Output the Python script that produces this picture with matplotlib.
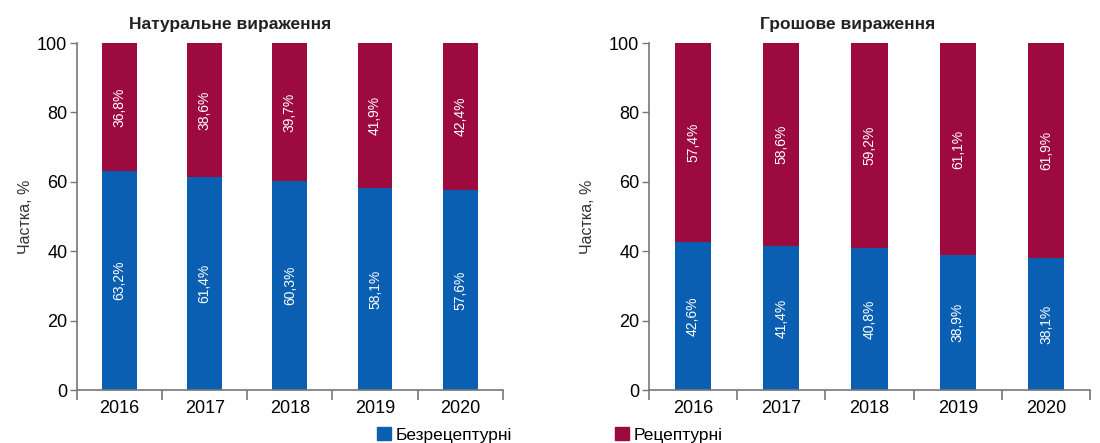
import matplotlib
matplotlib.use("Agg")
import matplotlib.pyplot as plt
from matplotlib.patches import Patch

plt.rcParams['font.family'] = ['Liberation Sans', 'DejaVu Sans']

years = ["2016", "2017", "2018", "2019", "2020"]
otc_units = [63.2, 61.4, 60.3, 58.1, 57.6]
rx_units = [36.8, 38.6, 39.7, 41.9, 42.4]
otc_money = [42.6, 41.4, 40.8, 38.9, 38.1]
rx_money = [57.4, 58.6, 59.2, 61.1, 61.9]

titles = ["Натуральне вираження", "Грошове вираження"]
series_names = ["Безрецептурні", "Рецептурні"]
y_label = "Частка, %"

BLUE = "#0b5fb2"
RED = "#9c0a3f"
AXIS = "#777777"

fig = plt.figure(figsize=(11, 4.43), dpi=100)
ax_l = fig.add_axes([0.070, 0.1196, 0.387, 0.7833])
ax_r = fig.add_axes([0.590, 0.1196, 0.401, 0.7833])


def fmt(v):
    return f"{v:.1f}%".replace(".", ",")


def draw(ax, otc, rx, title, ylabel_pad):
    x = range(len(years))
    ax.bar(x, otc, width=0.41, color=BLUE)
    ax.bar(x, rx, width=0.41, bottom=otc, color=RED)
    for i, (a, b) in enumerate(zip(otc, rx)):
        ax.text(i, a / 2, fmt(a), rotation=90, ha="center", va="center",
                color="white", fontsize=10)
        ax.text(i, a + b / 2, fmt(b), rotation=90, ha="center", va="center",
                color="white", fontsize=10)
    ax.set_xlim(-0.5, len(years) - 0.5)
    ax.set_ylim(0, 100)
    ax.set_yticks([0, 20, 40, 60, 80, 100])
    ax.set_xticks([i - 0.5 for i in range(len(years) + 1)])
    ax.set_xticklabels([])
    ax.set_xticks(list(x), minor=True)
    ax.set_xticklabels(years, minor=True, fontsize=13)
    ax.tick_params(axis="x", which="major", length=7, width=1.2, color=AXIS)
    ax.tick_params(axis="x", which="minor", length=0, pad=7)
    ax.tick_params(axis="y", length=5, width=1, color=AXIS, labelsize=13, pad=2)
    for s in ("top", "right"):
        ax.spines[s].set_visible(False)
    for s in ("left", "bottom"):
        ax.spines[s].set_color(AXIS)
        ax.spines[s].set_linewidth(1.2)
    ax.set_ylabel(y_label, fontsize=11.5, labelpad=ylabel_pad, color="#333333")
    ax.set_title(title, fontsize=12.5, fontweight="bold", pad=10, color="#222222")


draw(ax_l, otc_units, rx_units, titles[0], 3)
draw(ax_r, otc_money, rx_money, titles[1], 10)
ax_l.title.set_position((0.36, 1.0))
ax_r.title.set_position((0.45, 1.0))

handles = [Patch(color=BLUE, label=series_names[0]),
           Patch(color=RED, label=series_names[1])]
fig.legend(handles=handles, loc="lower center", bbox_to_anchor=(0.5, -0.035),
           ncol=2, frameon=False, fontsize=12.5, handlelength=0.8,
           handleheight=0.8, handletextpad=0.3, columnspacing=5.9)

fig.savefig("out.png", dpi=100)
